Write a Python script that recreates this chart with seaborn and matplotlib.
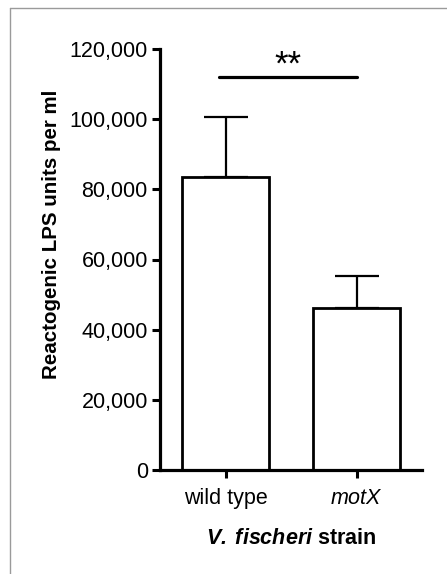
import matplotlib
matplotlib.use("Agg")
import matplotlib.pyplot as plt
import seaborn as sns
import pandas as pd
from matplotlib.lines import Line2D

strains = ["wild type", "motX"]
means = [83500, 46200]
errors_up = [17200, 9100]
sig_y = 112000
sig_label = "**"
yticks = [0, 20000, 40000, 60000, 80000, 100000, 120000]

sns.set_theme(style="white")
plt.rcParams['font.family'] = ['Liberation Sans', 'DejaVu Sans']
plt.rcParams['mathtext.fontset'] = 'custom'
plt.rcParams['mathtext.bfit'] = 'Liberation Sans:italic:bold'
plt.rcParams['mathtext.it'] = 'Liberation Sans:italic'
plt.rcParams['mathtext.rm'] = 'Liberation Sans'
plt.rcParams['text.color'] = 'black'
plt.rcParams['axes.labelcolor'] = 'black'
plt.rcParams['xtick.color'] = 'black'
plt.rcParams['ytick.color'] = 'black'

df = pd.DataFrame({"strain": strains, "value": means})

fig = plt.figure(figsize=(4.47, 5.74), dpi=100)
ax = fig.add_axes([160/447, 1 - 470/574, (422-160)/447, (470-49)/574])

sns.barplot(data=df, x="strain", y="value", ax=ax, color="white",
            edgecolor="black", linewidth=2.0, width=0.66, errorbar=None)
ax.errorbar(range(len(strains)), means, yerr=[[0]*len(strains), errors_up],
            fmt='none', ecolor='black', elinewidth=1.6, capsize=16, capthick=1.6,
            zorder=0)

ax.set_xlim(-0.5, 1.5)
ax.set_ylim(0, 120000)
ax.set_yticks(yticks)
ax.set_yticklabels([f"{v:,}" for v in yticks], fontsize=15.5, color="black")
ax.set_xticks(range(len(strains)))
ax.set_xticklabels(["wild type", r"$\mathit{motX}$"], fontsize=15.5, color="black")

for s in ["top", "right"]:
    ax.spines[s].set_visible(False)
for s in ["left", "bottom"]:
    ax.spines[s].set_linewidth(2.3)
    ax.spines[s].set_color("black")

ax.tick_params(axis="both", which="both", direction="out", length=5.8, width=2.2,
               color="black", labelcolor="black", left=True, bottom=True)
ax.tick_params(axis="y", pad=3)
ax.tick_params(axis="x", pad=7)

ax.set_ylabel("Reactogenic LPS units per ml", fontsize=14.8, fontweight="bold",
              color="black")
ax.set_xlabel(r"$\mathbfit{V.\;fischeri}$ strain", fontsize=15.5,
              fontweight="bold", labelpad=14, color="black")
ax.yaxis.set_label_coords(-0.377, 0.56)

ax.plot([-0.05, 1.0], [sig_y, sig_y], color="black", linewidth=2.3,
        clip_on=False)
ax.text(0.48, 112600, sig_label, ha="center", va="baseline",
        fontsize=25, fontweight="normal", color="black")

ax.set_facecolor("white")
fig.patch.set_facecolor("white")

fig.add_artist(Line2D([10/447, 10/447], [0, 1 - 8/574], color="#9a9a9a",
                      linewidth=1.0, transform=fig.transFigure))
fig.add_artist(Line2D([10/447, 1], [1 - 8/574, 1 - 8/574], color="#9a9a9a",
                      linewidth=1.0, transform=fig.transFigure))

fig.savefig("out.png", dpi=100)
